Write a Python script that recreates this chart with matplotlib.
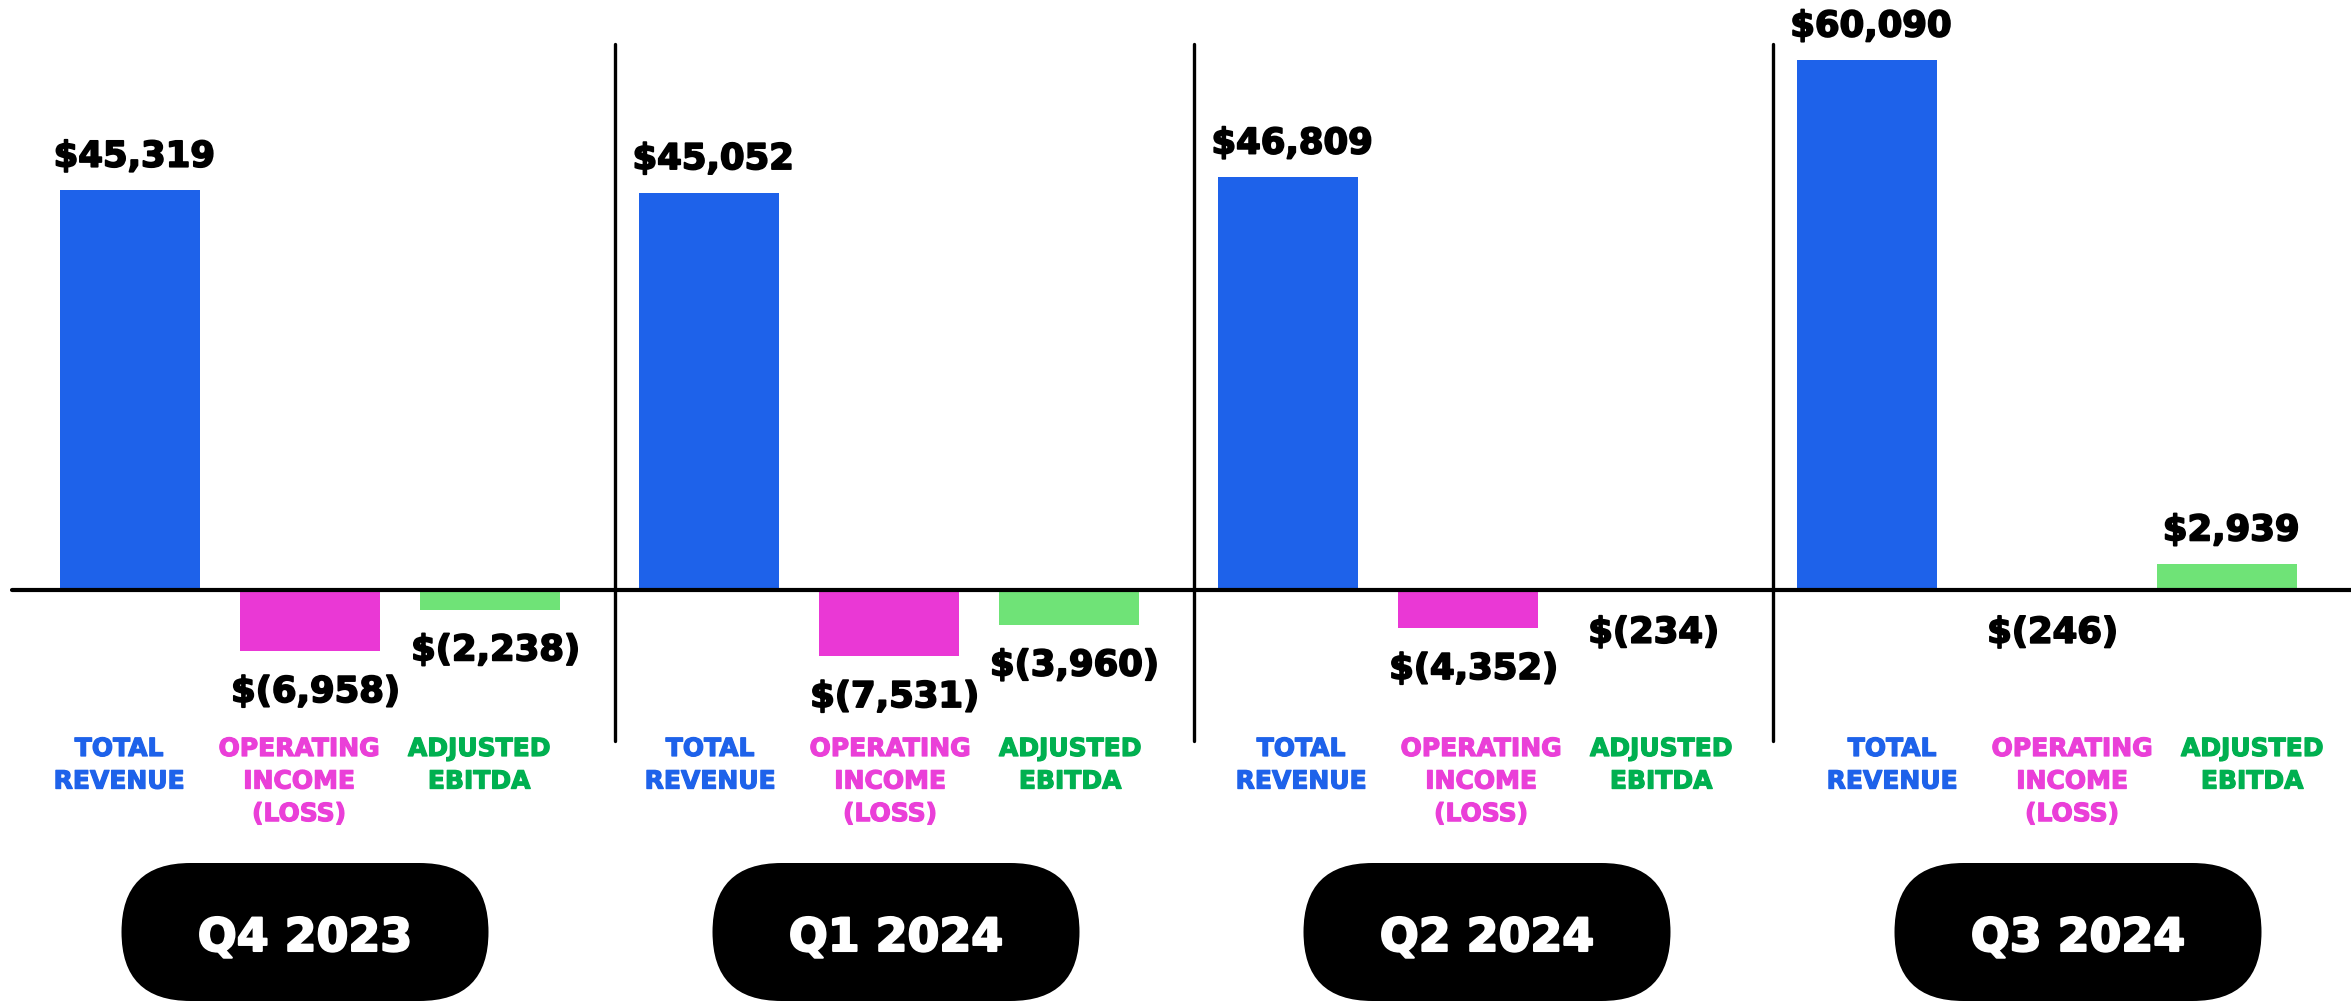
import numpy as np
import matplotlib
matplotlib.use('Agg')
from matplotlib import pyplot as plt
from matplotlib.patches import FancyBboxPatch
import matplotlib.patheffects as pe

quarters = ['Q4 2023', 'Q1 2024', 'Q2 2024', 'Q3 2024']
metrics = ['TOTAL\nREVENUE', 'OPERATING\nINCOME\n(LOSS)', 'ADJUSTED\nEBITDA']
total_revenue = [45319, 45052, 46809, 60090]
operating_income = [-6958, -7531, -4352, -246]
adjusted_ebitda = [-2238, -3960, -234, 2939]

bar_colors = ['#1E62EA', '#EA38D5', '#6FE377']
text_colors = ['#1E62EA', '#EA3FD8', '#00B050']

W, H = 2351, 1004
DPI = 100


def fx(px):
    return px / W


def fy(py):
    return 1 - py / H


def money(v):
    if v < 0:
        return f'$({-v:,})'
    return f'${v:,}'


def heavy(color, lw=1.3):
    # fake a black/extra-bold weight with a thin stroke
    return [pe.withStroke(linewidth=lw, foreground=color)]


fig = plt.figure(figsize=(W / DPI, H / DPI), dpi=DPI)
ax = fig.add_axes([0, 0, 1, 1])
ax.axis('off')

# axis set up so one unit = spacing between bars, y in dollars
zero_px = 591
per_px = 113.4
group_step = 579 / 180
ax.set_xlim(-130 / 180, (W - 130) / 180)
ax.set_ylim(-(H - zero_px) * per_px, zero_px * per_px)

series = [total_revenue, operating_income, adjusted_ebitda]
for k, vals in enumerate(series):
    x = np.arange(len(quarters)) * group_step + k
    ax.bar(x, vals, width=0.78, color=bar_colors[k], zorder=2)
    for xi, v in zip(x, vals):
        if v >= 0:
            ax.annotate(money(v), (xi, v), xytext=(3, 12), textcoords='offset points',
                        ha='center', va='bottom', fontsize=25.5, fontweight='bold',
                        family='DejaVu Sans', color='black', path_effects=heavy('black'))
        else:
            ax.annotate(money(v), (xi, v), xytext=(4, -17), textcoords='offset points',
                        ha='center', va='top', fontsize=25.5, fontweight='bold',
                        family='DejaVu Sans', color='black', path_effects=heavy('black'))

# baseline and separators
ax.plot([-118 / 180, (W - 130) / 180], [0, 0], color='black', lw=3, solid_capstyle='round', zorder=3)
for i in range(len(quarters) - 1):
    xs = 2.694 + i * group_step
    ax.plot([xs, xs], [61860, -17090], color='black', lw=2.4, solid_capstyle='round', zorder=3)

# category labels and quarter pills
for i, q in enumerate(quarters):
    cx = 305 + 591 * i
    for k, m in enumerate(metrics):
        fig.text(fx(cx + (k - 1) * 180 - 6), fy(738), m, ha='center', va='top',
                 fontsize=18, fontweight='bold', family='DejaVu Sans',
                 color=text_colors[k], linespacing=1.45, path_effects=heavy(text_colors[k], 0.9))
    pw, ph = 3.67, 1.38
    pill = FancyBboxPatch((cx / DPI - pw / 2, 0.02), pw, ph,
                          boxstyle=f'round,pad=0,rounding_size={ph / 2}',
                          transform=fig.dpi_scale_trans, facecolor='black', edgecolor='none')
    fig.add_artist(pill)
    fig.text(fx(cx), fy(952), q, ha='center', va='baseline', fontsize=33,
             fontweight='bold', family='DejaVu Sans', color='white',
             path_effects=heavy('white', 1.5))

fig.savefig('out.png', dpi=DPI, facecolor='white')
